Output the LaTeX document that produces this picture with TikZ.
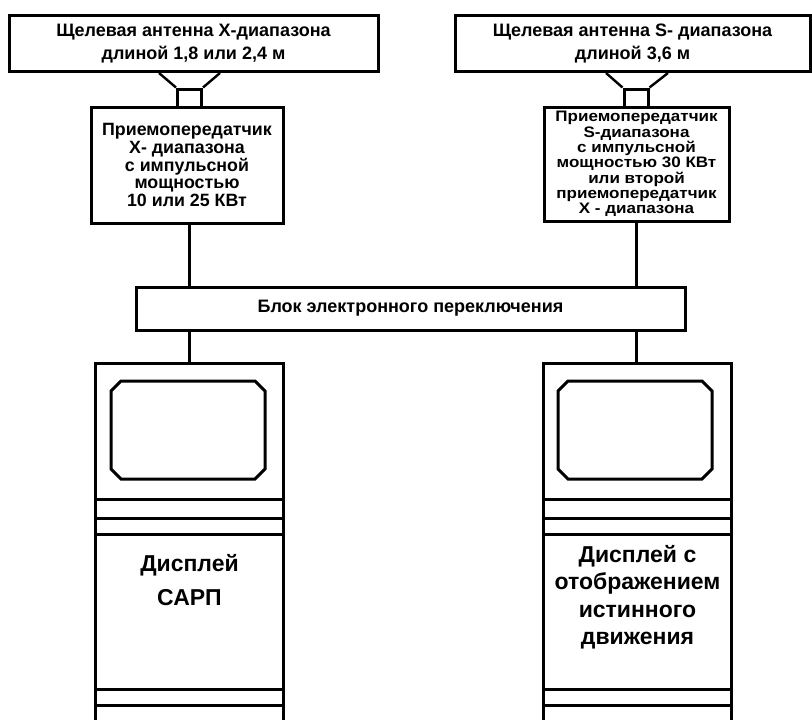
\documentclass[tikz,border=0pt]{standalone}
\usepackage{fontspec}
\setmainfont{Liberation Sans}
\newfontfamily\widesans[FakeStretch=1.12]{Liberation Sans}
\begin{document}
\begin{tikzpicture}[x=1pt,y=-1pt,line width=3pt,
  box/.style={draw,rectangle,inner sep=0pt,align=center},
  antfont/.style={font=\bfseries\fontsize{18}{23.5}\selectfont},
  trxfont/.style={font=\bfseries\fontsize{17.8}{17.8}\selectfont},
  trxtight/.style={font=\widesans\bfseries\fontsize{15.2}{15.3}\selectfont},
  dispfont/.style={font=\bfseries\fontsize{23}{27.5}\selectfont},
  feed/.style={draw,rectangle,inner sep=0pt,minimum width=24pt,minimum height=18pt},
  horn/.style={line width=2.4pt},
  wire/.style={line cap=butt}]
\useasboundingbox (0,0) rectangle (812,720);
\fill[white] (0,0) rectangle (812,720);

% antennas
\node[box,antfont,minimum width=369pt,minimum height=56pt] (antL) at (193.5,43.5)
  {Щелевая антенна X-диапазона\\длиной 1,8 или 2,4 м};
\node[box,antfont,minimum width=355pt,minimum height=56pt] (antR) at (632.5,43.5)
  {Щелевая антенна S- диапазона\\длиной 3,6 м};

% feeds
\node[feed] (feedL) at (189.5,98) {};
\node[feed] (feedR) at (636,98) {};
\draw[horn] (antL.south -| 159,0) -- (feedL.north west);
\draw[horn] (antL.south -| 220,0) -- (feedL.north east);
\draw[horn] (antR.south -| 606,0) -- (feedR.north west);
\draw[horn] (antR.south -| 668,0) -- (feedR.north east);

% transceivers
\node[box,trxfont,minimum width=192pt,minimum height=116pt] (trxL) at (187,165)
  {Приемопередатчик\\X- диапазона\\с импульсной\\мощностью\\10 или 25 КВт};
\node[box,minimum width=185pt,minimum height=114pt] (trxR) at (636.5,164) {};
\node[trxtight,align=center,inner sep=0pt] (trxRtext) at (trxR.center)
  {Приемопередатчик\\S-диапазона\\с импульсной\\мощностью 30 КВт\\или второй\\приемопередатчик\\X - диапазона};

% switching unit
\node[box,antfont,minimum width=549pt,minimum height=43pt] (sw) at (410.5,308.5)
  {Блок электронного переключения};

% displays
\begin{scope}[shift={(97,365)}]
  \node[rectangle,inner sep=0pt,minimum width=185pt,minimum height=355pt] (dispL) at (92.5,177.5) {};
  \draw (dispL.south west) |- (dispL.north east) -- (dispL.south east);
  \draw (14,26) -- (24,16) -- (158,16) -- (168,26) -- (168,104) -- (158,114) -- (24,114) -- (14,104) -- cycle;
  \foreach \yy in {134,153,169,324,340} \draw (0,\yy) -- (185,\yy);
  \node[dispfont,align=center] (txtL) at (92.5,215)
    {Дисплей\\[7pt]САРП};
\end{scope}
\begin{scope}[shift={(545,365)}]
  \node[rectangle,inner sep=0pt,minimum width=185pt,minimum height=355pt] (dispR) at (92.5,177.5) {};
  \draw (dispR.south west) |- (dispR.north east) -- (dispR.south east);
  \draw (13,26) -- (23,16) -- (157,16) -- (167,26) -- (167,104) -- (157,114) -- (23,114) -- (13,104) -- cycle;
  \foreach \yy in {134,153,169,324,340} \draw (0,\yy) -- (185,\yy);
  \node[dispfont,align=center] (txtR) at (92.5,232)
    {Дисплей с\\отображением\\истинного\\движения};
\end{scope}

% connectors
\draw[wire] (trxL.south -| feedL) -- (sw.north -| feedL);
\draw[wire] (sw.south -| feedL) -- (dispL.north -| feedL);
\draw[wire] (trxR.south -| feedR) -- (sw.north -| feedR);
\draw[wire] (sw.south -| feedR) -- (dispR.north -| feedR);
\end{tikzpicture}
\end{document}
